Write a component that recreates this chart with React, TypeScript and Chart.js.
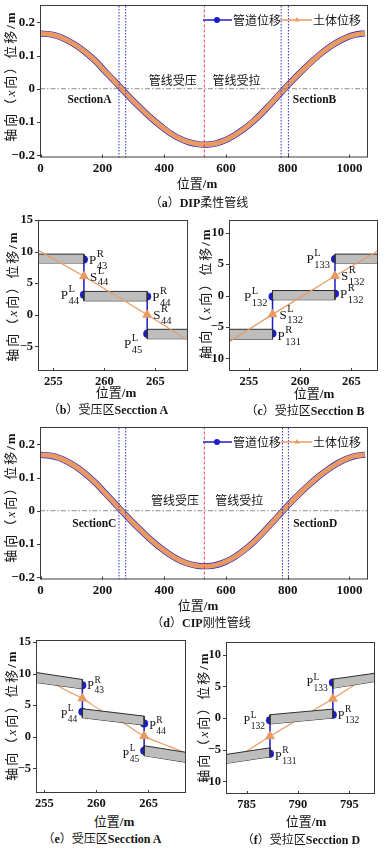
import React, { useEffect, useRef } from "react";
import { Chart, registerables } from "chart.js";

Chart.register(...registerables);

const SERIF = '"Liberation Serif", "Times New Roman", serif';
const MIXED = '"Liberation Serif", "Noto Sans CJK SC", sans-serif';
const CJK = '"Noto Sans CJK SC", "Liberation Serif", sans-serif';

const BLUE = "#1c1cc8";
const ORANGE = "#e99a62";
const BAR_FILL = "#bdbdbd";
const BAR_EDGE = "#2e2e2e";
const INK = "#141414";
const FRAME = "#3a3a3a";

// ===== (a) DIP / (d) CIP : axial displacement along the pipeline =====
const positions = [0, 30, 60, 90, 120, 150, 180, 210, 240, 270, 300, 330, 360, 390, 420, 450, 480, 510, 530, 540, 570, 600, 630, 660, 690, 720, 750, 780, 810, 840, 870, 900, 930, 960, 990, 1020, 1050];
const pipeDIP = [0.166, 0.164, 0.157, 0.144, 0.127, 0.106, 0.081, 0.051, 0.022, -0.008, -0.037, -0.064, -0.09, -0.113, -0.134, -0.15, -0.161, -0.167, -0.168, -0.168, -0.164, -0.154, -0.139, -0.12, -0.097, -0.07, -0.04, -0.01, 0.02, 0.048, 0.075, 0.1, 0.122, 0.14, 0.154, 0.163, 0.167];
const soilDIP = [0.166, 0.164, 0.157, 0.144, 0.127, 0.106, 0.081, 0.051, 0.022, -0.008, -0.037, -0.064, -0.09, -0.113, -0.134, -0.15, -0.161, -0.167, -0.168, -0.168, -0.164, -0.154, -0.139, -0.12, -0.097, -0.07, -0.04, -0.01, 0.02, 0.048, 0.075, 0.1, 0.122, 0.14, 0.154, 0.163, 0.167];
const pipeCIP = [0.168, 0.166, 0.159, 0.146, 0.129, 0.107, 0.082, 0.052, 0.022, -0.008, -0.037, -0.064, -0.09, -0.113, -0.133, -0.149, -0.16, -0.166, -0.167, -0.167, -0.163, -0.153, -0.138, -0.118, -0.094, -0.066, -0.036, -0.005, 0.025, 0.053, 0.079, 0.103, 0.124, 0.142, 0.156, 0.165, 0.169];
const soilCIP = [0.168, 0.166, 0.159, 0.146, 0.129, 0.107, 0.082, 0.052, 0.022, -0.008, -0.037, -0.064, -0.09, -0.113, -0.133, -0.149, -0.16, -0.166, -0.167, -0.167, -0.163, -0.153, -0.138, -0.118, -0.094, -0.066, -0.036, -0.005, 0.025, 0.053, 0.079, 0.103, 0.124, 0.142, 0.156, 0.165, 0.169];
const overallXTicks = [0, 200, 400, 600, 800, 1000];
const overallYTicks = [-0.2, -0.1, 0, 0.1, 0.2];
const overallXRange = [-2, 1060];
const overallYRange = [-0.207, 0.252];
const sectionLinesDIP = [253.7, 275.4, 778.7, 802.3];
const sectionLinesCIP = [253.7, 275.4, 783, 802.3];
const boundaryX = 530;
const legendNames = ["管道位移", "土体位移"];
const zoneNames = ["管线受压", "管线受拉"];
const zoneXDIP = [428, 634];
const zoneYDIP = 0.026;
const zoneXCIP = [435, 643];
const zoneYCIP = 0.032;
const sectionNamesDIP = ["SectionA", "SectionB"];
const sectionTextXDIP = [158, 887];
const sectionTextYDIP = -0.034;
const sectionNamesCIP = ["SectionC", "SectionD"];
const sectionTextXCIP = [174, 889];
const sectionTextYCIP = -0.041;

// ===== (b) compression zone, Section A (DIP) =====
const bXRange = [253.5, 268.2];
const bYRange = [-8.9, 15];
const bXTicks = [255, 260, 265];
const bYTicks = [-5, 0, 5, 10, 15];
const bBarX0 = [253.5, 258.0, 264.2];
const bBarX1 = [258.0, 264.2, 268.2];
const bBarTop0 = [9.6, 3.7, -2.3];
const bBarTop1 = [9.6, 3.7, -2.3];
const bBarBot0 = [8.2, 2.2, -3.8];
const bBarBot1 = [8.2, 2.2, -3.8];
const bJointX = [258.0, 264.2];
const bJointUpper = [8.74, 2.89];
const bJointLower = [3.16, -3.0];
const bSoilMarkY = [6.1, 0.0];
const bSoilX = [253.5, 258.0, 264.2, 268.2];
const bSoilY = [10.26, 6.1, 0.0, -4.05];

// ===== (c) tension zone, Section B (DIP) =====
const cXRange = [253.05, 267.6];
const cYRange = [-12, 12];
const cXTicks = [255, 260, 265];
const cYTicks = [-10, -5, 0, 5, 10];
const cBarX0 = [253.05, 257.3, 263.4];
const cBarX1 = [257.3, 263.4, 267.6];
const cBarTop0 = [-5.37, 0.79, 6.58];
const cBarTop1 = [-5.37, 0.79, 6.58];
const cBarBot0 = [-6.95, -0.68, 5.16];
const cBarBot1 = [-6.95, -0.68, 5.16];
const cJointX = [257.3, 263.4];
const cJointUpper = [-0.16, 5.79];
const cJointLower = [-6.05, 0.26];
const cSoilMarkY = [-3.0, 3.1];
const cSoilX = [253.05, 257.3, 263.4, 267.6];
const cSoilY = [-7.37, -3.0, 3.1, 7.1];

// ===== (e) compression zone, Section A (CIP) =====
const eXRange = [254.2, 268.6];
const eYRange = [-8.9, 15.3];
const eXTicks = [255, 260, 265];
const eYTicks = [-5, 0, 5, 10, 15];
const eBarX0 = [254.2, 258.65, 264.58];
const eBarX1 = [258.65, 264.58, 268.6];
const eBarTop0 = [10.16, 4.42, -1.42];
const eBarTop1 = [9.05, 3.26, -2.47];
const eBarBot0 = [8.58, 3.0, -3.0];
const eBarBot1 = [7.58, 1.84, -4.05];
const eJointX = [258.65, 264.58];
const eJointUpper = [8.16, 2.1];
const eJointLower = [3.95, -2.2];
const eSoilMarkY = [6.05, 0.1];
const eSoilX = [254.2, 256.8, 258.65, 260.4, 262.9, 264.58, 267.1, 268.6];
const eSoilY = [10.3, 7.6, 6.05, 4.2, 1.85, 0.1, -1.6, -2.6];

// ===== (f) tension zone, Section D (CIP) =====
const fXRange = [783, 797.5];
const fYRange = [-12, 12];
const fXTicks = [785, 790, 795];
const fYTicks = [-10, -5, 0, 5, 10];
const fBarX0 = [783, 787.28, 793.4];
const fBarX1 = [787.28, 793.4, 797.5];
const fBarTop0 = [-5.76, 0.52, 6.13];
const fBarTop1 = [-4.71, 1.41, 7.07];
const fBarBot0 = [-7.17, -0.94, 4.71];
const fBarBot1 = [-6.13, 0.0, 5.76];
const fJointX = [787.28, 793.4];
const fJointUpper = [-0.37, 5.6];
const fJointLower = [-5.65, 0.52];
const fSoilMarkY = [-2.88, 3.04];
const fSoilX = [783, 785, 787.28, 793.4, 795.75, 797.5];
const fSoilY = [-7.1, -5.24, -2.88, 3.04, 5.5, 7.2];

type SubLabel = { x: number; y: number; base: string; sup: string; sub: string; side: "left" | "right"; dy?: number; dx?: number };
type PlotText = { x: number; y: number; text: string; font: string };
type Box = { left: number; top: number; w: number; h: number; padTop: number; padRight: number; yW: number; xH: number };

const bLabels: SubLabel[] = [
  { x: bJointX[0], y: bJointUpper[0], base: "P", sup: "R", sub: "43", side: "right" },
  { x: bJointX[0], y: bSoilMarkY[0], base: "S", sup: "L", sub: "44", side: "right", dx: 6 },
  { x: bJointX[0], y: bJointLower[0], base: "P", sup: "L", sub: "44", side: "left" },
  { x: bJointX[1], y: bJointUpper[1], base: "P", sup: "R", sub: "44", side: "right" },
  { x: bJointX[1], y: bSoilMarkY[1], base: "S", sup: "R", sub: "44", side: "right", dx: 6 },
  { x: bJointX[1], y: bJointLower[1], base: "P", sup: "L", sub: "45", side: "left", dy: 10 },
];
const cLabels: SubLabel[] = [
  { x: cJointX[0], y: cJointUpper[0], base: "P", sup: "L", sub: "132", side: "left" },
  { x: cJointX[0], y: cSoilMarkY[0], base: "S", sup: "L", sub: "132", side: "right", dx: 7 },
  { x: cJointX[0], y: cJointLower[0], base: "P", sup: "R", sub: "131", side: "right", dy: 2 },
  { x: cJointX[1], y: cJointLower[1], base: "P", sup: "R", sub: "132", side: "right" },
  { x: cJointX[1], y: cSoilMarkY[1], base: "S", sup: "R", sub: "132", side: "right", dx: 6 },
  { x: cJointX[1], y: cJointUpper[1], base: "P", sup: "L", sub: "133", side: "left" },
];
const eLabels: SubLabel[] = [
  { x: eJointX[0], y: eJointUpper[0], base: "P", sup: "R", sub: "43", side: "right" },
  { x: eJointX[0], y: eJointLower[0], base: "P", sup: "L", sub: "44", side: "left", dy: 2 },
  { x: eJointX[1], y: eJointUpper[1], base: "P", sup: "R", sub: "44", side: "right", dy: 2 },
  { x: eJointX[1], y: eJointLower[1], base: "P", sup: "L", sub: "45", side: "left", dy: 3 },
];
const fLabels: SubLabel[] = [
  { x: fJointX[0], y: fJointUpper[0], base: "P", sup: "L", sub: "132", side: "left" },
  { x: fJointX[0], y: fJointLower[0], base: "P", sup: "R", sub: "131", side: "right", dy: 2 },
  { x: fJointX[1], y: fJointLower[1], base: "P", sup: "R", sub: "132", side: "right" },
  { x: fJointX[1], y: fJointUpper[1], base: "P", sup: "L", sub: "133", side: "left" },
];

function fmtTick(v: number) {
  return v < 0 ? "\u2212" + String(Math.abs(v)) : String(v);
}

function drawSubLabel(ctx: CanvasRenderingContext2D, px: number, py: number, l: SubLabel, bs: number, ss: number) {
  ctx.font = `${bs}px ${SERIF}`;
  const wb = ctx.measureText(l.base).width;
  ctx.font = `${ss}px ${SERIF}`;
  const ws = Math.max(ctx.measureText(l.sup).width, ctx.measureText(l.sub).width);
  const gap = l.dx ?? 5;
  const x0 = l.side === "right" ? px + gap : px - gap - wb - ws - 0.5;
  const yc = py + (l.dy ?? 0);
  ctx.textAlign = "left";
  ctx.textBaseline = "alphabetic";
  ctx.fillStyle = INK;
  ctx.font = `${bs}px ${SERIF}`;
  ctx.fillText(l.base, x0, yc + bs * 0.33);
  ctx.font = `${ss}px ${SERIF}`;
  ctx.fillText(l.sup, x0 + wb + 0.5, yc - bs * 0.2);
  ctx.fillText(l.sub, x0 + wb + 0.5, yc + bs * 0.33 + ss * 0.45);
}

function drawTriangle(ctx: CanvasRenderingContext2D, cx: number, cy: number, r: number) {
  ctx.beginPath();
  ctx.moveTo(cx, cy - r);
  ctx.lineTo(cx + r * 0.87, cy + r * 0.5);
  ctx.lineTo(cx - r * 0.87, cy + r * 0.5);
  ctx.closePath();
  ctx.fill();
}

function makeDecor(opt: { xTicks: number[]; yTicks: number[]; labels?: SubLabel[]; texts?: PlotText[]; legend?: boolean; sizes?: [number, number] }) {
  return {
    id: "decor",
    afterDraw(chart: any) {
      const ctx: CanvasRenderingContext2D = chart.ctx;
      const { left, right, top, bottom } = chart.chartArea;
      const xs = chart.scales.x;
      const ys = chart.scales.y;
      ctx.save();
      for (const t of opt.texts || []) {
        ctx.font = t.font;
        ctx.fillStyle = INK;
        ctx.textAlign = "center";
        ctx.textBaseline = "middle";
        ctx.fillText(t.text, xs.getPixelForValue(t.x), ys.getPixelForValue(t.y));
      }
      const [bs, ss] = opt.sizes || [12, 9.5];
      for (const l of opt.labels || []) {
        drawSubLabel(ctx, xs.getPixelForValue(l.x), ys.getPixelForValue(l.y), l, bs, ss);
      }
      ctx.strokeStyle = FRAME;
      ctx.lineWidth = 1;
      ctx.strokeRect(left + 0.5, top + 0.5, right - left - 1, bottom - top - 1);
      ctx.beginPath();
      for (const v of opt.xTicks) {
        const px = Math.round(xs.getPixelForValue(v)) + 0.5;
        ctx.moveTo(px, bottom);
        ctx.lineTo(px, bottom - 3);
      }
      for (const v of opt.yTicks) {
        const py = Math.round(ys.getPixelForValue(v)) + 0.5;
        ctx.moveTo(left, py);
        ctx.lineTo(left - 3, py);
      }
      ctx.stroke();
      if (opt.legend) {
        const ly = top + 15;
        ctx.lineWidth = 1.5;
        ctx.strokeStyle = BLUE;
        ctx.beginPath();
        ctx.moveTo(right - 165, ly);
        ctx.lineTo(right - 136, ly);
        ctx.stroke();
        ctx.fillStyle = BLUE;
        ctx.beginPath();
        ctx.arc(right - 151, ly, 3, 0, Math.PI * 2);
        ctx.fill();
        ctx.strokeStyle = ORANGE;
        ctx.beginPath();
        ctx.moveTo(right - 87, ly);
        ctx.lineTo(right - 56, ly);
        ctx.stroke();
        ctx.fillStyle = ORANGE;
        drawTriangle(ctx, right - 71, ly, 3);
        ctx.fillStyle = INK;
        ctx.font = `12px ${CJK}`;
        ctx.textAlign = "left";
        ctx.textBaseline = "middle";
        ctx.fillText(legendNames[0], right - 135, ly);
        ctx.fillText(legendNames[1], right - 55, ly);
      }
      ctx.restore();
    },
  };
}

function baseOptions(box: Box, xr: number[], yr: number[], xTicks: number[], yTicks: number[], fs: number) {
  return {
    animation: false,
    responsive: false,
    maintainAspectRatio: false,
    events: [],
    layout: { padding: { left: 0, top: box.padTop, right: box.padRight, bottom: 0 } },
    plugins: { legend: { display: false }, tooltip: { enabled: false } },
    scales: {
      x: {
        type: "linear",
        min: xr[0],
        max: xr[1],
        grid: { display: false, drawTicks: false },
        border: { display: false },
        ticks: { autoSkip: false, maxRotation: 0, padding: 3, color: INK, font: { family: SERIF, size: fs, weight: "bold" }, callback: (v: any) => fmtTick(Number(v)) },
        afterBuildTicks: (s: any) => {
          s.ticks = xTicks.map((v) => ({ value: v }));
        },
        afterFit: (s: any) => {
          s.height = box.xH;
        },
      },
      y: {
        type: "linear",
        min: yr[0],
        max: yr[1],
        grid: { display: false, drawTicks: false },
        border: { display: false },
        ticks: { autoSkip: false, padding: 5, color: INK, font: { family: SERIF, size: fs, weight: "bold" }, callback: (v: any) => fmtTick(Number(v)) },
        afterBuildTicks: (s: any) => {
          s.ticks = yTicks.map((v) => ({ value: v }));
        },
        afterFit: (s: any) => {
          s.width = box.yW;
        },
      },
    },
  };
}

function overallConfig(box: Box, pipe: number[], soil: number[], sections: number[], zoneX: number[], zoneY: number, secNames: string[], secX: number[], secY: number) {
  const pts = (ys: number[]) => positions.map((x, i) => ({ x, y: ys[i] }));
  const datasets: any[] = [];
  sections.forEach((x) =>
    datasets.push({ data: [{ x, y: overallYRange[0] }, { x, y: overallYRange[1] }], borderColor: "#3434d8", borderWidth: 1, borderDash: [1.5, 1.5], pointRadius: 0, order: 0 })
  );
  datasets.push({ data: [{ x: boundaryX, y: overallYRange[0] }, { x: boundaryX, y: overallYRange[1] }], borderColor: "#e04040", borderWidth: 1, borderDash: [3, 2], pointRadius: 0, order: 0 });
  datasets.push({ data: [{ x: overallXRange[0], y: 0 }, { x: overallXRange[1], y: 0 }], borderColor: "#8c8c8c", borderWidth: 1, borderDash: [5, 2, 1.5, 2], pointRadius: 0, order: 0 });
  datasets.push({ data: pts(soil), borderColor: ORANGE, borderWidth: 5, pointRadius: 0, cubicInterpolationMode: "monotone", order: 1 });
  datasets.push({ data: pts(pipe), borderColor: BLUE, borderWidth: 6.2, pointRadius: 0, cubicInterpolationMode: "monotone", order: 2 });
  const texts: PlotText[] = [
    { x: zoneX[0], y: zoneY, text: zoneNames[0], font: `12px ${CJK}` },
    { x: zoneX[1], y: zoneY, text: zoneNames[1], font: `12px ${CJK}` },
    { x: secX[0], y: secY, text: secNames[0], font: `bold 11.5px ${SERIF}` },
    { x: secX[1], y: secY, text: secNames[1], font: `bold 11.5px ${SERIF}` },
  ];
  return {
    type: "line",
    data: { datasets },
    options: baseOptions(box, overallXRange, overallYRange, overallXTicks, overallYTicks, 13),
    plugins: [makeDecor({ xTicks: overallXTicks, yTicks: overallYTicks, texts, legend: true })],
  };
}

function detailConfig(
  box: Box,
  d: {
    xr: number[]; yr: number[]; xTicks: number[]; yTicks: number[];
    x0: number[]; x1: number[]; t0: number[]; t1: number[]; b0: number[]; b1: number[];
    jx: number[]; ju: number[]; jl: number[]; my: number[]; sx: number[]; sy: number[];
    soilBelow: boolean; labels: SubLabel[]; sizes: [number, number]; smooth: boolean;
  }
) {
  const datasets: any[] = [];
  for (let i = 0; i < d.x0.length; i++) {
    datasets.push({ data: [{ x: d.x0[i], y: d.t0[i] }, { x: d.x1[i], y: d.t1[i] }], fill: "+1", backgroundColor: BAR_FILL, borderColor: BAR_EDGE, borderWidth: 1, pointRadius: 0, order: 2 });
    datasets.push({ data: [{ x: d.x0[i], y: d.b0[i] }, { x: d.x1[i], y: d.b1[i] }], fill: false, borderColor: BAR_EDGE, borderWidth: 1, pointRadius: 0, order: 2 });
    datasets.push({ data: [{ x: d.x0[i], y: d.t0[i] }, { x: d.x0[i], y: d.b0[i] }], fill: false, borderColor: BAR_EDGE, borderWidth: 1, pointRadius: 0, order: 1.5 });
    datasets.push({ data: [{ x: d.x1[i], y: d.t1[i] }, { x: d.x1[i], y: d.b1[i] }], fill: false, borderColor: BAR_EDGE, borderWidth: 1, pointRadius: 0, order: 1.5 });
  }
  for (let j = 0; j < d.jx.length; j++) {
    datasets.push({
      data: [{ x: d.jx[j], y: d.ju[j] }, { x: d.jx[j], y: d.jl[j] }],
      borderColor: BLUE, borderWidth: 1.5, pointRadius: 4, pointBackgroundColor: BLUE, pointBorderColor: BLUE, pointBorderWidth: 0, order: 3,
    });
  }
  datasets.push({
    data: d.sx.map((x, i) => ({ x, y: d.sy[i] })),
    borderColor: ORANGE, borderWidth: 1.2, pointRadius: 0, cubicInterpolationMode: d.smooth ? "monotone" : "default", order: d.soilBelow ? 4 : 1,
  });
  datasets.push({
    data: d.jx.map((x, j) => ({ x, y: d.my[j] })),
    showLine: false, pointStyle: "triangle", pointRadius: 5, pointBackgroundColor: ORANGE, pointBorderColor: ORANGE, pointBorderWidth: 1, order: 0,
  });
  return {
    type: "line",
    data: { datasets },
    options: baseOptions(box, d.xr, d.yr, d.xTicks, d.yTicks, 12.5),
    plugins: [makeDecor({ xTicks: d.xTicks, yTicks: d.yTicks, labels: d.labels, sizes: d.sizes })],
  };
}

const boxA: Box = { left: 0, top: -15, w: 388, h: 190, padTop: 20, padRight: 20, yW: 40, xH: 17.5 };
const boxD: Box = { left: 0, top: 407, w: 388, h: 190, padTop: 20, padRight: 20, yW: 40, xH: 17.5 };
const boxB: Box = { left: 0, top: 200, w: 194, h: 190, padTop: 20, padRight: 6, yW: 38, xH: 19 };
const boxC: Box = { left: 194, top: 200, w: 194, h: 190, padTop: 20, padRight: 10, yW: 35, xH: 19 };
const boxE: Box = { left: 0, top: 620, w: 194, h: 190, padTop: 20, padRight: 8, yW: 36, xH: 17 };
const boxF: Box = { left: 194, top: 622, w: 194, h: 190, padTop: 20, padRight: 13, yW: 32, xH: 18 };

function ChartCanvas({ box, make }: { box: Box; make: () => any }) {
  const ref = useRef<HTMLCanvasElement | null>(null);
  useEffect(() => {
    const chart = new Chart(ref.current as HTMLCanvasElement, make());
    return () => chart.destroy();
  }, []);
  return <canvas ref={ref} width={box.w} height={box.h} style={{ position: "absolute", left: box.left, top: box.top, width: box.w, height: box.h }} />;
}

function Txt({ x, y, size, rotate, font, spacing, children }: { x: number; y: number; size: number; rotate?: boolean; font?: string; spacing?: number; children: any }) {
  return (
    <div
      style={{
        position: "absolute",
        left: x,
        top: y,
        transform: `translate(-50%, -50%)${rotate ? " rotate(-90deg)" : ""}`,
        fontFamily: font || MIXED,
        fontSize: size,
        lineHeight: 1,
        letterSpacing: spacing ? `${spacing}px` : undefined,
        whiteSpace: "nowrap",
        color: INK,
      }}
    >
      {children}
    </div>
  );
}

const YTitle = () => (
  <span>
    轴向（<i style={{ fontFamily: SERIF }}>x</i>向）位移<b style={{ fontFamily: SERIF }}>/m</b>
  </span>
);
const XTitle = () => (
  <span>
    位置<b style={{ fontFamily: SERIF }}>/m</b>
  </span>
);

export default function App() {
  return (
    <div style={{ position: "absolute", left: 0, top: 0, width: 388, height: 850, background: "#fff", overflow: "hidden" }}>
      <ChartCanvas box={boxA} make={() => overallConfig(boxA, pipeDIP, soilDIP, sectionLinesDIP, zoneXDIP, zoneYDIP, sectionNamesDIP, sectionTextXDIP, sectionTextYDIP)} />
      <ChartCanvas
        box={boxB}
        make={() =>
          detailConfig(boxB, {
            xr: bXRange, yr: bYRange, xTicks: bXTicks, yTicks: bYTicks,
            x0: bBarX0, x1: bBarX1, t0: bBarTop0, t1: bBarTop1, b0: bBarBot0, b1: bBarBot1,
            jx: bJointX, ju: bJointUpper, jl: bJointLower, my: bSoilMarkY, sx: bSoilX, sy: bSoilY,
            soilBelow: false, labels: bLabels, sizes: [13, 10.5], smooth: false,
          })
        }
      />
      <ChartCanvas
        box={boxC}
        make={() =>
          detailConfig(boxC, {
            xr: cXRange, yr: cYRange, xTicks: cXTicks, yTicks: cYTicks,
            x0: cBarX0, x1: cBarX1, t0: cBarTop0, t1: cBarTop1, b0: cBarBot0, b1: cBarBot1,
            jx: cJointX, ju: cJointUpper, jl: cJointLower, my: cSoilMarkY, sx: cSoilX, sy: cSoilY,
            soilBelow: false, labels: cLabels, sizes: [13, 10.5], smooth: false,
          })
        }
      />
      <ChartCanvas box={boxD} make={() => overallConfig(boxD, pipeCIP, soilCIP, sectionLinesCIP, zoneXCIP, zoneYCIP, sectionNamesCIP, sectionTextXCIP, sectionTextYCIP)} />
      <ChartCanvas
        box={boxE}
        make={() =>
          detailConfig(boxE, {
            xr: eXRange, yr: eYRange, xTicks: eXTicks, yTicks: eYTicks,
            x0: eBarX0, x1: eBarX1, t0: eBarTop0, t1: eBarTop1, b0: eBarBot0, b1: eBarBot1,
            jx: eJointX, ju: eJointUpper, jl: eJointLower, my: eSoilMarkY, sx: eSoilX, sy: eSoilY,
            soilBelow: true, labels: eLabels, sizes: [12, 9.5], smooth: true,
          })
        }
      />
      <ChartCanvas
        box={boxF}
        make={() =>
          detailConfig(boxF, {
            xr: fXRange, yr: fYRange, xTicks: fXTicks, yTicks: fYTicks,
            x0: fBarX0, x1: fBarX1, t0: fBarTop0, t1: fBarTop1, b0: fBarBot0, b1: fBarBot1,
            jx: fJointX, ju: fJointUpper, jl: fJointLower, my: fSoilMarkY, sx: fSoilX, sy: fSoilY,
            soilBelow: true, labels: fLabels, sizes: [12, 9.5], smooth: false,
          })
        }
      />

      <Txt x={10} y={76} size={13} rotate font={CJK} spacing={2}><YTitle /></Txt>
      <Txt x={197} y={183} size={13} font={CJK}><XTitle /></Txt>
      <Txt x={199} y={202} size={12} font={CJK}>（<b style={{ fontFamily: SERIF }}>a</b>）<b style={{ fontFamily: SERIF }}>DIP</b>柔性管线</Txt>

      <Txt x={12} y={296} size={13} rotate font={CJK} spacing={2}><YTitle /></Txt>
      <Txt x={116} y={392} size={13} font={CJK}><XTitle /></Txt>
      <Txt x={108} y={409} size={12} font={CJK}>（<b style={{ fontFamily: SERIF }}>b</b>）受压区<b style={{ fontFamily: SERIF }}>Secction A</b></Txt>

      <Txt x={205} y={293} size={13} rotate font={CJK} spacing={2}><YTitle /></Txt>
      <Txt x={314} y={393} size={13} font={CJK}><XTitle /></Txt>
      <Txt x={305} y={410} size={12} font={CJK}>（<b style={{ fontFamily: SERIF }}>c</b>）受拉区<b style={{ fontFamily: SERIF }}>Secction B</b></Txt>

      <Txt x={10} y={497} size={13} rotate font={CJK} spacing={2}><YTitle /></Txt>
      <Txt x={198} y={605} size={13} font={CJK}><XTitle /></Txt>
      <Txt x={201} y={622} size={12} font={CJK}>（<b style={{ fontFamily: SERIF }}>d</b>）<b style={{ fontFamily: SERIF }}>CIP</b>刚性管线</Txt>

      <Txt x={11} y={715} size={13} rotate font={CJK} spacing={2}><YTitle /></Txt>
      <Txt x={114} y={821} size={13} font={CJK}><XTitle /></Txt>
      <Txt x={102} y={838} size={12} font={CJK}>（<b style={{ fontFamily: SERIF }}>e</b>）受压区<b style={{ fontFamily: SERIF }}>Secction A</b></Txt>

      <Txt x={203} y={717} size={13} rotate font={CJK} spacing={2}><YTitle /></Txt>
      <Txt x={306} y={821} size={13} font={CJK}><XTitle /></Txt>
      <Txt x={301} y={839} size={12} font={CJK}>（<b style={{ fontFamily: SERIF }}>f</b>）受拉区<b style={{ fontFamily: SERIF }}>Secction D</b></Txt>
    </div>
  );
}
